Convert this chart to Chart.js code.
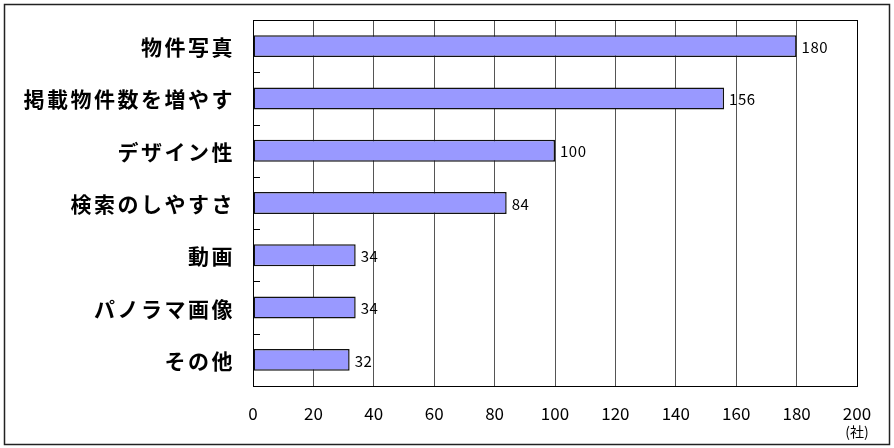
<!DOCTYPE html>
<html>
<head>
<meta charset="utf-8">
<script src="https://cdn.jsdelivr.net/npm/chart.js@4"></script>
<style>
    html, body { margin: 0; padding: 0; background: #fff; }
    #wrap { width: 894px; height: 448px; }
</style>
</head>
<body>
<div id="wrap"><canvas id="featuresChart" width="894" height="448"></canvas></div>
<script>
    // chart data
    let categories = ['物件写真', '掲載物件数を増やす', 'デザイン性', '検索のしやすさ', '動画', 'パノラマ画像', 'その他']
    let companies = [180, 156, 100, 84, 34, 34, 32]
    let xTicks = [0, 20, 40, 60, 80, 100, 120, 140, 160, 180, 200]
    let unitLabel = '(社)'

    let jpFont = '"Noto Sans CJK JP", "Noto Sans", sans-serif'

    // outer frame, plot frame, inner category ticks, category names, values
    let decorations = {
        id: 'decorations',
        afterDraw: function(chart) {
            let c = chart.ctx
            let area = chart.chartArea
            let y = chart.scales.y
            let x = chart.scales.x

            c.save()
            // outer frame
            c.strokeStyle = '#222'
            c.lineWidth = 1.5
            c.strokeRect(4.5, 4.5, 885, 440)

            // plot frame
            c.strokeStyle = '#000'
            c.lineWidth = 1
            c.strokeRect(Math.round(area.left) + 0.5, Math.round(area.top) + 0.5,
                Math.round(area.right - area.left), Math.round(area.bottom - area.top))

            // small ticks between categories, drawn inward
            for (let i = 1; i < categories.length; i++) {
                let py = Math.round((y.getPixelForValue(i - 1) + y.getPixelForValue(i)) / 2) + 0.5
                c.beginPath()
                c.moveTo(area.left, py)
                c.lineTo(area.left + 7, py)
                c.stroke()
            }

            // category names (bold, spaced)
            c.fillStyle = '#000'
            c.font = 'bold 21px ' + jpFont
            c.letterSpacing = '2.5px'
            c.textAlign = 'right'
            c.textBaseline = 'middle'
            categories.forEach((name, i) => {
                c.fillText(name, area.left - 18, y.getPixelForValue(i) + 1)
            })

            // values next to bars
            c.font = '15px ' + jpFont
            c.letterSpacing = '0.5px'
            c.textAlign = 'left'
            chart.getDatasetMeta(0).data.forEach((bar, i) => {
                c.fillText(companies[i], bar.x + 5, bar.y + 1)
            })

            // unit under the last tick
            c.font = '14px ' + jpFont
            c.letterSpacing = '0px'
            c.textAlign = 'center'
            c.fillText(unitLabel, x.getPixelForValue(xTicks[xTicks.length - 1]), 432)
            c.restore()
        }
    }

    let chart = new Chart(document.getElementById('featuresChart'), {
        type: 'bar',
        data: {
            labels: categories,
            datasets: [{
                data: companies,
                backgroundColor: '#9999ff',
                borderColor: '#111',
                borderWidth: 1.5,
                borderSkipped: false,
                barPercentage: 0.42,
                categoryPercentage: 1
            }]
        },
        options: {
            indexAxis: 'y',
            responsive: false,
            animation: false,
            layout: { padding: { top: 20, right: 37, left: 0, bottom: 0 } },
            plugins: {
                legend: { display: false },
                tooltip: { enabled: false },
                title: { display: false }
            },
            scales: {
                x: {
                    min: xTicks[0],
                    max: xTicks[xTicks.length - 1],
                    afterBuildTicks: function(scale) {
                        scale.ticks = xTicks.map(v => ({ value: v }))
                    },
                    afterFit: function(scale) { scale.height = 62 },
                    grid: { color: '#555', drawTicks: false },
                    border: { color: '#000' },
                    ticks: {
                        padding: 17,
                        color: '#000',
                        font: { family: jpFont, size: 17 }
                    }
                },
                y: {
                    afterFit: function(scale) { scale.width = 253 },
                    grid: { display: false },
                    border: { color: '#000' },
                    ticks: { display: false }
                }
            }
        },
        plugins: [decorations]
    })
</script>
</body>
</html>
